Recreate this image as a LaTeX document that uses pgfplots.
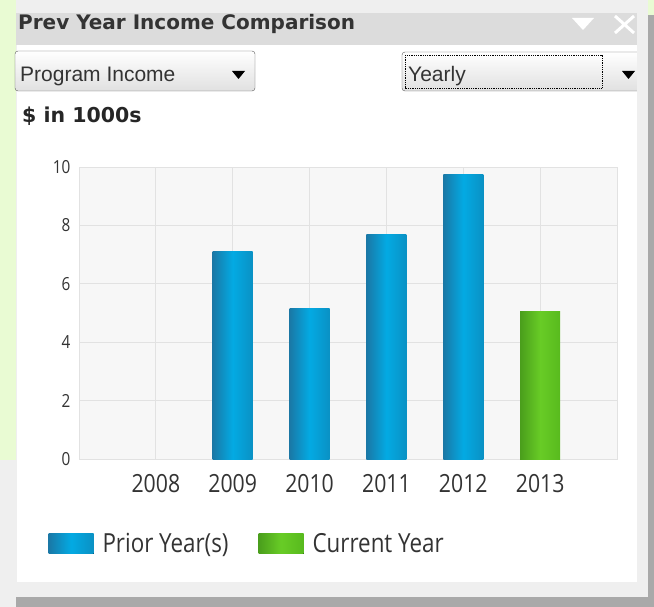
\documentclass[border=0pt]{standalone}
\usepackage{fontspec}
\usepackage{pgfplots}
\pgfplotsset{compat=1.18}
\setmainfont{Open Sans}
\newfontfamily\condfont{Open Sans}[FakeStretch=0.85]
\newfontfamily\dejavu{DejaVu Sans}
\newfontfamily\libsans{Liberation Sans}
\definecolor{outerbg}{HTML}{EFEFEF}
\definecolor{greenstrip}{HTML}{E9FBD3}
\definecolor{titlebar}{HTML}{DCDCDC}
\definecolor{darkgrey}{HTML}{A9A9A9}
\definecolor{plotbg}{HTML}{F7F7F7}
\definecolor{gridc}{HTML}{E2E2E2}
\definecolor{blueL}{HTML}{1A78A6}
\definecolor{blueM}{HTML}{03AAE3}
\definecolor{blueR}{HTML}{0A91C4}
\definecolor{greenL}{HTML}{4A9E1C}
\definecolor{greenM}{HTML}{68CC26}
\definecolor{greenR}{HTML}{58BA1E}
\definecolor{txt}{HTML}{333333}
\pgfplotsset{
  priorbar/.style={ybar, bar width=40pt, bar shift=0pt, draw=none,
    left color=blueL, right color=blueR, middle color=blueM},
  currbar/.style={ybar, bar width=40pt, bar shift=0pt, draw=none,
    left color=greenL, right color=greenR, middle color=greenM},
}
\begin{document}
\begin{tikzpicture}
\begin{scope}[x=1pt,y=-1pt]
\fill[outerbg] (0,0) rectangle (654,607);
\fill[greenstrip] (0,0) rectangle (16,460);
\fill[white] (17,45) rectangle (637,582);
\fill[titlebar] (16,13) rectangle (637,45);
\node[anchor=base west, inner sep=0, text=txt] at (18,30) {\dejavu\bfseries\fontsize{20}{20}\selectfont Prev Year Income Comparison};
\fill[white] (572,18) -- (594,18) -- (583,30) -- cycle;
\draw[white, line width=3pt] (615,16) -- (634,33) (634,16) -- (615,33);
% dropdown 1
\draw[rounded corners=3pt, draw=black!65, top color=white, bottom color=black!12] (15,51) rectangle (255,91);
\node[anchor=base west, inner sep=0, text=txt] at (20,82) {\libsans\fontsize{21}{21}\selectfont Program Income};
\fill[black] (232,71) -- (245,71) -- (238.5,79) -- cycle;
% dropdown 2
\draw[rounded corners=3pt, draw=black!65, top color=white, bottom color=black!12] (402,52) rectangle (646,91);
\draw[densely dotted, black, line width=0.8pt] (405,55) rectangle (602,88);
\node[anchor=base west, inner sep=0, text=txt] at (408,82) {\libsans\fontsize{21}{21}\selectfont Yearly};
\fill[black] (622,71) -- (635,71) -- (628.5,79) -- cycle;
\fill[outerbg] (637,45) rectangle (654,597);
\fill[greenstrip] (648,0) rectangle (654,15);
\fill[darkgrey] (648,15) rectangle (654,607);
\fill[darkgrey] (16,597) rectangle (654,607);
\node[anchor=base west, inner sep=0, text=black!85] at (22,123) {\dejavu\bfseries\fontsize{20.5}{20.5}\selectfont \$ in 1000s};
\end{scope}
\begin{axis}[
  at={(79pt,-459pt)}, anchor=south west,
  scale only axis, width=538pt, height=292pt,
  xmin=-1, xmax=6, ymin=0, ymax=10,
  xtick={0,1,2,3,4,5},
  xticklabels={2008,2009,2010,2011,2012,2013},
  ytick={0,2,4,6,8,10},
  yticklabels={0,2,4,6,8,10},
  major tick length=0pt,
  grid=major,
  grid style={draw=gridc, line width=0.8pt},
  axis line style={draw=gridc},
  axis background/.style={fill=plotbg},
  x tick label style={font=\condfont\fontsize{25}{25}\selectfont, text=txt, yshift=-12pt},
  y tick label style={font=\condfont\fontsize{18}{18}\selectfont, text=txt, xshift=-5pt},
  legend image code/.code={\fill[#1] (0pt,-10pt) rectangle (45pt,10pt);},
  legend style={at={(-0.057,-0.29)}, anchor=west, draw=none, fill=none,
    inner sep=0pt, legend columns=2,
    font=\condfont\fontsize{26.3}{26.3}\selectfont,
    text=txt},
  /tikz/every odd column/.append style={column sep=7pt},
  /tikz/every even column/.append style={column sep=28pt},
]
\addplot[priorbar] coordinates {(1,7.1)};
\addlegendentry{Prior Year(s)}
\addplot[priorbar, forget plot] coordinates {(2,5.15)};
\addplot[priorbar, forget plot] coordinates {(3,7.68)};
\addplot[priorbar, forget plot] coordinates {(4,9.76)};
\addplot[currbar] coordinates {(5,5.05)};
\addlegendentry{Current Year}
\end{axis}
\end{tikzpicture}
\end{document}
